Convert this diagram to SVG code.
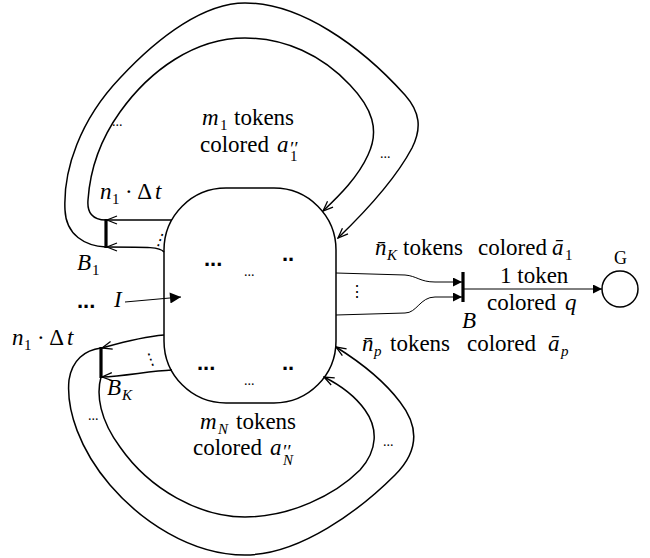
<svg xmlns="http://www.w3.org/2000/svg" width="650" height="558" viewBox="0 0 650 558">
<style>
text{font-family:'Liberation Serif','Times New Roman',serif;font-size:23px;fill:#000}
.i{font-style:italic}
.s{font-size:15px}
.p{font-size:19px;font-style:italic}
.d{font-size:14px}
.bd{font-family:'Liberation Sans',Arial,sans-serif;font-weight:bold;font-size:22px}
.v{font-size:16px}
.g{font-size:18px}
.ln{fill:none;stroke:#000;stroke-width:1.5}
.thin{fill:none;stroke:#000;stroke-width:1}
.bar{stroke:#000;stroke-width:3.2}
</style>
<defs>
<marker id="open" viewBox="0 0 12 10" refX="11" refY="5" markerWidth="12" markerHeight="10" markerUnits="userSpaceOnUse" orient="auto"><path d="M1,1 L11,5 L1,9" fill="none" stroke="#000" stroke-width="1.3"/></marker>
<marker id="tri" viewBox="0 0 10 10" refX="10" refY="5" markerWidth="11" markerHeight="9" markerUnits="userSpaceOnUse" orient="auto"><path d="M0,0 L10,5 L0,10 z" fill="#000"/></marker>
<marker id="triL" viewBox="0 0 10 10" refX="10" refY="5" markerWidth="14" markerHeight="11" markerUnits="userSpaceOnUse" orient="auto"><path d="M0,0 L10,5 L0,10 z" fill="#000"/></marker>
</defs>

<g id="place-main">
<rect x="164" y="188" width="172" height="215" rx="62" ry="62" class="ln"/>
<text x="204" y="266" class="bd">...</text>
<text x="282" y="261" class="bd">..</text>
<text x="244" y="276" class="d">...</text>
<text x="197" y="370" class="bd">...</text>
<text x="282" y="370" class="bd">..</text>
<text x="244" y="385" class="d">...</text>
</g>

<g id="trans-B1">
<line x1="106" y1="219" x2="106" y2="248" class="bar"/>
<text x="77" y="270" class="i">B</text><text x="92" y="275" class="s">1</text>
</g>

<g id="trans-BK">
<line x1="101" y1="347" x2="101" y2="378" class="bar"/>
<text x="107" y="395" class="i">B</text><text x="122" y="400" class="s i">K</text>
</g>

<g id="trans-B">
<line x1="463" y1="272" x2="463" y2="302" class="bar"/>
<text x="462" y="328" class="i">B</text>
</g>

<g id="place-G">
<circle cx="620" cy="289" r="18" class="ln"/>
<text x="614" y="264" class="g">G</text>
</g>

<g id="connectors">
<path d="M106,247 C85,246 66,235 65,210 C63,170 80,120 120,78 C160,35 205,3 245,3 C300,3 360,45 405,95 C420,112 422,128 412,148 C395,180 365,212 338,238" class="ln" marker-end="url(#open)"/>
<path d="M106,220 C92,220 87,212 88,200 C90,170 100,140 120,112 C150,70 195,38 245,38 C285,38 322,55 350,85 C372,108 380,130 368,155 C358,177 340,195 323,211" class="ln" marker-end="url(#open)"/>
<path d="M101,348 C85,350 72,360 69,380 C66,410 80,450 110,485 C140,520 190,555 245,555 C300,555 360,510 395,475 C420,450 418,425 400,402 C385,382 360,362 336,347" class="ln" marker-end="url(#open)"/>
<path d="M101,377 C96,395 100,420 120,447 C150,490 200,517 245,517 C290,517 335,495 360,470 C378,450 378,428 365,410 C355,396 340,385 324,377" class="ln" marker-end="url(#open)"/>
<path d="M172,220 L107,220" class="ln" marker-end="url(#open)"/>
<path d="M164,252 C160,247 150,247 107,247" class="ln" marker-end="url(#open)"/>
<path d="M164,335 C140,337 120,343 102,348" class="ln" marker-end="url(#open)"/>
<path d="M172,370 C150,371 125,376 102,377" class="ln" marker-end="url(#open)"/>
<path d="M125,302 L181,297" class="thin" marker-end="url(#triL)"/>
<path d="M336,273 L405,275 C417,276 420,282 435,282 L462,282" class="thin" marker-end="url(#tri)"/>
<path d="M336,315 L405,313 C417,313 420,297 435,297 L462,297" class="thin" marker-end="url(#tri)"/>
<path d="M464,289 L602,289" class="thin" marker-end="url(#tri)"/>
</g>

<g id="labels">
<text x="202" y="125" class="i">m</text><text x="220" y="130" class="s">1</text><text x="234" y="125">tokens</text>
<text x="200" y="152">colored</text><text x="277" y="152" class="i">a</text><text x="289" y="155" class="p">′′</text><text x="290" y="161" class="s">1</text>
<text x="100" y="199" class="i">n</text><text x="112" y="204" class="s">1</text><text x="125" y="199">· Δ</text><text x="155" y="199" class="i">t</text>
<text x="112" y="126" class="d">...</text>
<text x="380" y="158" class="d">...</text>
<text transform="translate(156,237) rotate(20)" x="-3" y="6" class="v">⋮</text>
<text x="77" y="308" class="bd">...</text>
<text x="114" y="307" class="i">I</text>
<text x="12" y="345" class="i">n</text><text x="24" y="350" class="s">1</text><text x="37" y="345">· Δ</text><text x="67" y="345" class="i">t</text>
<text transform="translate(146,360) rotate(-20)" x="-3" y="6" class="v">⋮</text>
<text x="88" y="420" class="d">...</text>
<text x="383" y="446" class="d">...</text>
<text x="200" y="429" class="i">m</text><text x="218" y="434" class="s i">N</text><text x="236" y="429">tokens</text>
<text x="193" y="455">colored</text><text x="270" y="455" class="i">a</text><text x="282" y="458" class="p">′′</text><text x="283" y="465" class="s i">N</text>
<text x="375" y="255" class="i">n̄</text><text x="387" y="260" class="s i">K</text><text x="403" y="255">tokens</text>
<text x="478" y="255">colored</text><text x="552" y="255" class="i">ā</text><text x="565" y="260" class="s">1</text>
<text x="349" y="297" class="v">⋮</text>
<text x="500" y="283">1 token</text>
<text x="487" y="310">colored</text><text x="565" y="310" class="i">q</text>
<text x="362" y="351" class="i">n̄</text><text x="374" y="356" class="s i">p</text><text x="390" y="351">tokens</text>
<text x="467" y="351">colored</text><text x="548" y="351" class="i">ā</text><text x="561" y="356" class="s i">p</text>
</g>
</svg>
